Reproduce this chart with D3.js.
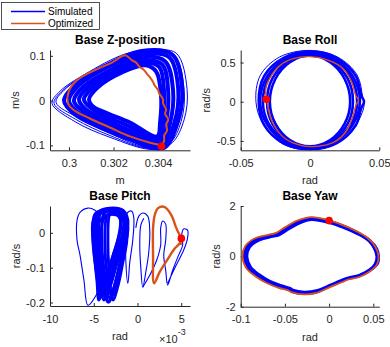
<!DOCTYPE html>
<html>
<head>
<meta charset="utf-8">
<script src="https://cdn.jsdelivr.net/npm/d3@7"></script>
<style>
  body { margin: 0; background: #fff; }
  svg { display: block; font-family: "Liberation Sans", Arial, Helvetica, sans-serif; }
</style>
</head>
<body>
<svg id="chart" width="390" height="347"></svg>
<script>
// Base Z-position: x in m, y in m/s
const zXTicks = [0.3, 0.302, 0.304];
const zYTicks = [-0.1, 0, 0.1];
const zBand = [
  [[0.30422, -0.107], [0.30274, -0.087], [0.30139, -0.060], [0.30027, -0.031], [0.29978, 0.000], [0.30027, 0.034], [0.30162, 0.077], [0.30319, 0.110], [0.30463, 0.103], [0.30508, 0.030], [0.30485, -0.053]],
  [[0.30418, -0.102], [0.30274, -0.080], [0.30144, -0.053], [0.30040, -0.026], [0.30000, 0.000], [0.30045, 0.034], [0.30175, 0.075], [0.30324, 0.103], [0.30449, 0.097], [0.30490, 0.027], [0.30472, -0.051]],
  [[0.30413, -0.098], [0.30274, -0.073], [0.30148, -0.047], [0.30058, -0.022], [0.30022, 0.000], [0.30067, 0.032], [0.30193, 0.070], [0.30328, 0.097], [0.30431, 0.088], [0.30467, 0.023], [0.30454, -0.049]],
  [[0.30409, -0.094], [0.30274, -0.067], [0.30153, -0.040], [0.30076, -0.020], [0.30045, 0.003], [0.30090, 0.032], [0.30207, 0.068], [0.30333, 0.090], [0.30418, 0.081], [0.30445, 0.021], [0.30436, -0.049]],
  [[0.30405, -0.087], [0.30274, -0.058], [0.30157, -0.033], [0.30094, -0.015], [0.30067, 0.003], [0.30108, 0.030], [0.30220, 0.065], [0.30337, 0.085], [0.30405, 0.075], [0.30427, 0.016], [0.30422, -0.047]],
  [[0.30396, -0.080], [0.30274, -0.049], [0.30162, -0.026], [0.30108, -0.013], [0.30090, 0.003], [0.30130, 0.030], [0.30238, 0.063], [0.30342, 0.079], [0.30391, 0.065], [0.30413, 0.012], [0.30409, -0.047]]
];
const zOuter = [
  [[0.30373, -0.109], [0.30184, -0.082], [0.30027, -0.047], [0.29924, -0.006], [0.29960, 0.021], [0.30072, 0.059], [0.30252, 0.104], [0.30364, 0.112], [0.30481, 0.106], [0.30530, 0.025], [0.30517, -0.042], [0.30463, -0.094]],
  [[0.30364, -0.107], [0.30184, -0.078], [0.30031, -0.042], [0.29933, -0.006], [0.29969, 0.021], [0.30085, 0.061], [0.30261, 0.101], [0.30369, 0.110], [0.30472, 0.103], [0.30517, 0.021], [0.30503, -0.047], [0.30454, -0.094]],
  [[0.30355, -0.105], [0.30184, -0.073], [0.30040, -0.038], [0.29942, -0.004], [0.29978, 0.023], [0.30094, 0.063], [0.30265, 0.099], [0.30373, 0.108], [0.30463, 0.101], [0.30503, 0.016], [0.30490, -0.051], [0.30445, -0.094]]
];
const zOpt = [
  [0.30418, -0.100], [0.30364, -0.094], [0.30274, -0.080], [0.30184, -0.060], [0.30094, -0.040], [0.30018, -0.020],
  [0.29996, -0.006], [0.30000, 0.021], [0.30040, 0.047], [0.30117, 0.068], [0.30193, 0.085], [0.30252, 0.101],
  [0.30283, 0.090], [0.30301, 0.085], [0.30319, 0.074], [0.30333, 0.070], [0.30351, 0.059], [0.30360, 0.054],
  [0.30378, 0.041], [0.30382, 0.036], [0.30400, 0.023], [0.30405, 0.016], [0.30422, 0.003], [0.30422, -0.006],
  [0.30436, -0.020], [0.30431, -0.029], [0.30445, -0.042], [0.30436, -0.053], [0.30440, -0.067], [0.30427, -0.078],
  [0.30427, -0.089], [0.30418, -0.100]
];
const zStart = [0.30415, -0.102];

// Base Roll: x in rad, y in rad/s
const rollXTicks = [-0.05, 0, 0.05];
const rollYTicks = [-0.5, 0, 0.5];
const rollBand = [
  [[0, 0.64], [0.019, 0.56], [0.033, 0.33], [0.037, 0.08], [0.039, 0.0], [0.037, -0.08], [0.033, -0.30], [0.019, -0.53], [0, -0.605], [-0.019, -0.53], [-0.033, -0.30], [-0.037, 0.01], [-0.033, 0.33], [-0.019, 0.56]],
  [[0, 0.625], [0.018, 0.545], [0.031, 0.32], [0.036, 0.01], [0.031, -0.29], [0.018, -0.51], [0, -0.59], [-0.018, -0.51], [-0.031, -0.29], [-0.036, 0.01], [-0.031, 0.32], [-0.018, 0.545]],
  [[0, 0.61], [0.017, 0.53], [0.0295, 0.31], [0.034, 0.0], [0.0295, -0.29], [0.017, -0.50], [0, -0.585], [-0.017, -0.50], [-0.0295, -0.29], [-0.034, 0.0], [-0.0295, 0.31], [-0.017, 0.53]],
  [[0.001, 0.60], [0.0155, 0.515], [0.027, 0.30], [0.031, 0.0], [0.027, -0.285], [0.0155, -0.495], [0, -0.575], [-0.0155, -0.495], [-0.027, -0.285], [-0.031, 0.0], [-0.027, 0.30], [-0.0155, 0.515]],
  [[0, 0.59], [0.0145, 0.505], [0.025, 0.29], [0.029, 0.0], [0.025, -0.28], [0.0145, -0.49], [0, -0.57], [-0.0145, -0.49], [-0.025, -0.28], [-0.029, 0.0], [-0.025, 0.29], [-0.0145, 0.505]]
];
const rollOuter = [
  [[0, 0.655], [0.020, 0.57], [0.034, 0.34], [0.038, 0.06], [0.039, -0.05], [0.033, -0.30], [0.019, -0.535], [0, -0.615], [-0.020, -0.535], [-0.034, -0.28], [-0.039, 0.0], [-0.036, 0.33], [-0.022, 0.57]]
];
const rollOpt = [
  [-0.031, 0.03], [-0.030, -0.10], [-0.026, -0.30], [-0.018, -0.47], [-0.006, -0.56], [0.005, -0.57], [0.017, -0.52],
  [0.026, -0.38], [0.031, -0.18], [0.033, -0.05], [0.035, 0.02], [0.033, 0.08], [0.030, 0.25], [0.024, 0.42],
  [0.013, 0.53], [0.0, 0.575], [-0.012, 0.55], [-0.022, 0.46], [-0.029, 0.30], [-0.032, 0.15], [-0.031, 0.03]
];
const rollStart = [-0.0315, 0.03];

// Base Pitch: x in rad (axis shown x10^-3), y in rad/s
const pitchXTicks = [-10e-3, -5e-3, 0, 5e-3];
const pitchYTicks = [-0.2, -0.1, 0];
const pitchBand = [
  [[-4.86e-3, 0.054], [-5.09e-3, -0.021], [-4.75e-3, -0.101], [-4.18e-3, -0.182], [-3.61e-3, -0.159], [-2.70e-3, -0.084], [-1.90e-3, -0.021], [-1.56e-3, 0.031], [-2.24e-3, 0.065], [-3.72e-3, 0.065]],
  [[-4.52e-3, 0.059], [-4.75e-3, -0.021], [-4.41e-3, -0.107], [-3.84e-3, -0.193], [-3.27e-3, -0.165], [-2.36e-3, -0.090], [-1.56e-3, -0.027], [-1.22e-3, 0.025], [-1.90e-3, 0.062], [-3.38e-3, 0.068]],
  [[-4.18e-3, 0.057], [-4.41e-3, -0.027], [-4.07e-3, -0.113], [-3.38e-3, -0.199], [-2.81e-3, -0.165], [-2.02e-3, -0.090], [-1.33e-3, -0.027], [-1.10e-3, 0.019], [-1.56e-3, 0.057], [-2.93e-3, 0.065]],
  [[-3.84e-3, 0.054], [-4.07e-3, -0.035], [-3.72e-3, -0.122], [-3.15e-3, -0.188], [-2.59e-3, -0.150], [-1.90e-3, -0.078], [-1.33e-3, -0.015], [-1.22e-3, 0.036], [-2.02e-3, 0.065], [-3.15e-3, 0.065]],
  [[-4.75e-3, 0.042], [-4.86e-3, -0.035], [-4.52e-3, -0.122], [-4.07e-3, -0.170], [-3.38e-3, -0.136], [-2.59e-3, -0.067], [-1.79e-3, -0.010], [-1.56e-3, 0.042], [-2.47e-3, 0.065], [-3.95e-3, 0.062]],
  [[-3.50e-3, 0.048], [-3.72e-3, -0.035], [-3.50e-3, -0.113], [-2.93e-3, -0.182], [-2.36e-3, -0.142], [-1.67e-3, -0.073], [-1.22e-3, -0.010], [-1.33e-3, 0.042], [-2.13e-3, 0.059], [-2.93e-3, 0.059]],
  [[-5.09e-3, 0.031], [-4.98e-3, -0.050], [-4.64e-3, -0.136], [-4.41e-3, -0.193], [-3.84e-3, -0.153], [-3.04e-3, -0.084], [-2.24e-3, -0.021], [-1.90e-3, 0.036], [-2.93e-3, 0.062], [-4.41e-3, 0.057]],
  [[-4.52e-3, 0.022], [-4.52e-3, -0.064], [-4.18e-3, -0.150], [-3.61e-3, -0.188], [-3.04e-3, -0.136], [-2.24e-3, -0.064], [-1.56e-3, -0.004], [-1.67e-3, 0.045], [-2.47e-3, 0.054], [-3.72e-3, 0.048]],
  [[-4.29e-3, 0.062], [-4.41e-3, -0.007], [-4.18e-3, -0.090], [-3.61e-3, -0.170], [-3.04e-3, -0.142], [-2.24e-3, -0.073], [-1.45e-3, -0.015], [-1.10e-3, 0.036], [-1.67e-3, 0.065], [-3.15e-3, 0.071]],
  [[-3.15e-3, 0.054], [-3.38e-3, -0.027], [-3.27e-3, -0.101], [-2.81e-3, -0.193], [-2.24e-3, -0.153], [-1.67e-3, -0.084], [-1.22e-3, -0.021], [-1.33e-3, 0.031], [-1.90e-3, 0.054], [-2.70e-3, 0.059]],
  [[-4.98e-3, 0.008], [-4.75e-3, -0.073], [-4.29e-3, -0.153], [-4.07e-3, -0.182], [-3.50e-3, -0.142], [-2.81e-3, -0.067], [-2.13e-3, -0.007], [-2.02e-3, 0.042], [-3.15e-3, 0.062], [-4.52e-3, 0.051]],
  [[-3.95e-3, 0.036], [-4.18e-3, -0.050], [-3.95e-3, -0.130], [-3.27e-3, -0.199], [-2.70e-3, -0.165], [-2.02e-3, -0.096], [-1.45e-3, -0.035], [-1.33e-3, 0.019], [-2.02e-3, 0.048], [-3.38e-3, 0.051]]
];
const pitchTransients = [
  [[-4.52e-3, -0.170], [-5.66e-3, -0.208], [-6.12e-3, -0.136], [-6.57e-3, -0.064], [-6.91e-3, -0.021], [-6.91e-3, 0.036], [-6.57e-3, 0.059], [-5.66e-3, 0.071], [-4.86e-3, 0.065], [-4.29e-3, 0.051]],
  [[-1.45e-3, 0.036], [-1.10e-3, 0.059], [-0.65e-3, 0.062], [-0.42e-3, 0.042], [-0.54e-3, -0.021], [-0.88e-3, -0.084], [-1.10e-3, -0.145], [-1.33e-3, -0.084], [-1.33e-3, -0.021]],
  [[-0.19e-3, 0.014], [0.15e-3, 0.048], [0.60e-3, 0.057], [1.17e-3, 0.048], [1.40e-3, 0.008], [1.29e-3, -0.055], [0.95e-3, -0.113], [0.60e-3, -0.156], [0.38e-3, -0.101], [0.26e-3, -0.035], [0.38e-3, 0.022], [0.72e-3, 0.042]],
  [[0.60e-3, -0.156], [1.40e-3, -0.122], [2.20e-3, -0.078], [2.65e-3, -0.035], [2.65e-3, 0.014], [2.88e-3, 0.034], [3.22e-3, 0.025], [3.22e-3, -0.021], [3.00e-3, -0.064], [3.22e-3, -0.107], [3.45e-3, -0.150], [4.02e-3, -0.107], [4.70e-3, -0.064], [5.16e-3, -0.035], [5.05e-3, -0.007], [5.27e-3, 0.011], [5.72e-3, 0.008], [5.72e-3, -0.015], [5.27e-3, -0.050], [4.36e-3, -0.096], [3.45e-3, -0.145]]
];
const pitchOpt = [
  [5.01e-3, -0.016], [4.44e-3, 0.0135], [3.87e-3, 0.051], [3.11e-3, 0.074], [2.35e-3, 0.071], [1.97e-3, 0.051],
  [1.78e-3, 0.0135], [1.78e-3, -0.064], [1.89e-3, -0.145], [2.54e-3, -0.112], [3.49e-3, -0.074], [4.25e-3, -0.045],
  [4.82e-3, -0.030], [4.93e-3, -0.015], [4.93e-3, -0.035]
];
const pitchStart = [5.01e-3, -0.016];

// Base Yaw: x in rad, y in rad/s
const yawXTicks = [-0.1, -0.05, 0, 0.05];
const yawYTicks = [-2, 0, 2];
const yawBand = [
  [[-0.02, 1.52], [0.0, 1.40], [0.015, 1.22], [0.031, 0.97], [0.043, 0.70], [0.050, 0.40], [0.054, 0.0], [0.052, -0.32], [0.045, -0.58], [0.033, -0.80], [0.020, -0.90], [0.014, -0.99], [0.0, -1.20], [-0.014, -1.42], [-0.028, -1.48], [-0.042, -1.40], [-0.045, -1.33], [-0.056, -1.22], [-0.069, -1.04], [-0.081, -0.78], [-0.092, -0.44], [-0.096, 0.0], [-0.093, 0.39], [-0.083, 0.68], [-0.066, 0.84], [-0.058, 0.91], [-0.049, 1.12], [-0.035, 1.39]],
  [[-0.02, 1.49], [0.0, 1.37], [0.016, 1.18], [0.032, 0.93], [0.046, 0.64], [0.054, 0.30], [0.056, 0.0], [0.055, -0.28], [0.047, -0.55], [0.035, -0.77], [0.022, -0.87], [0.016, -0.95], [0.002, -1.16], [-0.013, -1.38], [-0.028, -1.45], [-0.041, -1.37], [-0.044, -1.30], [-0.055, -1.19], [-0.068, -1.01], [-0.080, -0.75], [-0.091, -0.42], [-0.095, 0.0], [-0.092, 0.37], [-0.082, 0.65], [-0.065, 0.81], [-0.057, 0.88], [-0.048, 1.09], [-0.034, 1.36]],
  [[-0.02, 1.46], [0.0, 1.34], [0.016, 1.15], [0.032, 0.90], [0.045, 0.62], [0.052, 0.30], [0.055, 0.0], [0.053, -0.27], [0.046, -0.53], [0.034, -0.75], [0.022, -0.85], [0.016, -0.92], [0.002, -1.13], [-0.013, -1.35], [-0.028, -1.42], [-0.041, -1.34], [-0.044, -1.27], [-0.054, -1.16], [-0.067, -0.99], [-0.079, -0.73], [-0.089, -0.41], [-0.093, 0.0], [-0.090, 0.36], [-0.080, 0.63], [-0.064, 0.79], [-0.056, 0.86], [-0.047, 1.06], [-0.033, 1.33]]
];
const yawOpt = [
  [-0.02, 1.56], [0.0, 1.43], [0.015, 1.25], [0.031, 1.0], [0.044, 0.72], [0.052, 0.40], [0.056, 0.0], [0.054, -0.33],
  [0.046, -0.60], [0.034, -0.82], [0.021, -0.93], [0.015, -1.02], [0.001, -1.22], [-0.014, -1.45], [-0.028, -1.51],
  [-0.042, -1.43], [-0.046, -1.36], [-0.057, -1.25], [-0.070, -1.07], [-0.083, -0.80], [-0.094, -0.45], [-0.098, 0.0],
  [-0.095, 0.40], [-0.085, 0.70], [-0.068, 0.86], [-0.060, 0.93], [-0.050, 1.15], [-0.036, 1.42]
];
const yawStart = [0.0, 1.42];

const legendNames = ['Simulated', 'Optimized'];

const axisColor = '#262626';
const simColor = '#0000ff';
const optColor = '#d95319';
const svg = d3.select('#chart');

const panels = [
  { id: 'z', title: 'Base Z-position', xLabel: 'm', yLabel: 'm/s', left: 50, right: 190, top: 50, bottom: 150.3,
    xDomain: [0.29915, 0.30543], yDomain: [-0.111, 0.113], xTicks: zXTicks, yTicks: zYTicks, xFormat: (d) => String(d),
    band: zBand, bandWidth: 4, thin: zOuter, open: [], opt: zOpt, optClosed: false, optWidth: 2, start: zStart, yLabelX: 19 },
  { id: 'roll', title: 'Base Roll', xLabel: 'rad', yLabel: 'rad/s', left: 240.7, right: 379.3, top: 50, bottom: 150.3,
    xDomain: [-0.05, 0.05], yDomain: [-0.62, 0.66], xTicks: rollXTicks, yTicks: rollYTicks, xFormat: (d) => String(d),
    band: rollBand, bandWidth: 2.6, thin: rollOuter, open: [], opt: rollOpt, optClosed: false, optWidth: 1.4, start: rollStart, yLabelX: 210 },
  { id: 'pitch', title: 'Base Pitch', xLabel: 'rad', yLabel: 'rad/s', left: 50, right: 190, top: 206, bottom: 306,
    xDomain: [-10e-3, 6e-3], yDomain: [-0.21, 0.077], xTicks: pitchXTicks, yTicks: pitchYTicks, xFormat: (d) => String(Math.round(d * 1000)),
    band: pitchBand, bandWidth: 2.9, thin: [], open: pitchTransients, opt: pitchOpt, optClosed: false, optWidth: 2.4, start: pitchStart, yLabelX: 20 },
  { id: 'yaw', title: 'Base Yaw', xLabel: 'rad', yLabel: 'rad/s', left: 240.7, right: 379.3, top: 206, bottom: 306.7,
    xDomain: [-0.1, 0.0568], yDomain: [-2, 2], xTicks: yawXTicks, yTicks: yawYTicks, xFormat: (d) => String(d),
    band: yawBand, bandWidth: 2.8, thin: [], open: [], opt: yawOpt, optClosed: true, optWidth: 1.8, start: yawStart, yLabelX: 220 }
];

function drawPanel(p) {
  const x = d3.scaleLinear().domain(p.xDomain).range([p.left, p.right]);
  const y = d3.scaleLinear().domain(p.yDomain).range([p.bottom, p.top]);

  const xAxisG = svg.append('g').attr('transform', `translate(0,${p.bottom})`)
    .call(d3.axisBottom(x).tickValues(p.xTicks).tickFormat(p.xFormat).tickSizeInner(-3).tickSizeOuter(0).tickPadding(9));
  const yAxisG = svg.append('g').attr('transform', `translate(${p.left},0)`)
    .call(d3.axisLeft(y).tickValues(p.yTicks).tickFormat((d) => String(d)).tickSizeInner(-3).tickSizeOuter(0).tickPadding(5));
  [xAxisG, yAxisG].forEach((a) => {
    a.attr('font-family', null).attr('font-size', null);
    a.select('.domain').attr('stroke', axisColor).attr('stroke-width', 1);
    a.selectAll('.tick line').attr('stroke', axisColor);
    a.selectAll('.tick text').attr('fill', axisColor).style('font-size', '11px');
  });

  svg.append('clipPath').attr('id', 'clip-' + p.id)
    .append('rect')
    .attr('x', p.left).attr('y', p.top - 2)
    .attr('width', p.right - p.left + 2).attr('height', p.bottom - p.top + 2);

  const g = svg.append('g').attr('clip-path', `url(#clip-${p.id})`);
  const closed = d3.line().x((d) => x(d[0])).y((d) => y(d[1])).curve(d3.curveCatmullRomClosed);
  const open = d3.line().x((d) => x(d[0])).y((d) => y(d[1])).curve(d3.curveCatmullRom);

  g.selectAll('path.thin').data(p.thin).enter().append('path')
    .attr('d', closed).attr('fill', 'none').attr('stroke', simColor).attr('stroke-width', 1);
  g.selectAll('path.open').data(p.open).enter().append('path')
    .attr('d', open).attr('fill', 'none').attr('stroke', simColor).attr('stroke-width', 1.1);
  g.selectAll('path.band').data(p.band).enter().append('path')
    .attr('d', closed).attr('fill', 'none').attr('stroke', simColor).attr('stroke-width', p.bandWidth);

  g.append('path')
    .attr('d', (p.optClosed ? closed : open)(p.opt))
    .attr('fill', 'none').attr('stroke', optColor).attr('stroke-width', p.optWidth)
    .attr('stroke-linejoin', 'round');

  svg.append('circle')
    .attr('cx', x(p.start[0])).attr('cy', y(p.start[1]))
    .attr('r', 3.8).attr('fill', '#ff0000');

  svg.append('text')
    .attr('x', (p.left + p.right) / 2).attr('y', p.top - 6)
    .attr('text-anchor', 'middle').attr('font-weight', 'bold').attr('font-size', 12)
    .attr('fill', '#000').text(p.title);
  svg.append('text')
    .attr('x', (p.left + p.right) / 2).attr('y', p.bottom + 34)
    .attr('text-anchor', 'middle').attr('font-size', 11).attr('fill', axisColor).text(p.xLabel);
  const cy = (p.top + p.bottom) / 2;
  svg.append('text')
    .attr('transform', `translate(${p.yLabelX},${cy}) rotate(-90)`)
    .attr('text-anchor', 'middle').attr('font-size', 11).attr('fill', axisColor).text(p.yLabel);
}

panels.forEach(drawPanel);

// exponent note under the pitch axis
const expo = svg.append('text').attr('x', 159).attr('y', 343).attr('font-size', 11).attr('fill', axisColor);
expo.append('tspan').text('\u00d710');
expo.append('tspan').attr('dy', -8).attr('font-size', 9).text('-3');

// legend
const legendColors = [simColor, optColor];
const legend = svg.append('g');
legend.append('rect')
  .attr('x', 1.5).attr('y', 2.5).attr('width', 98).attr('height', 27)
  .attr('fill', '#fff').attr('stroke', axisColor).attr('stroke-width', 0.8);
legendNames.forEach((name, i) => {
  legend.append('path')
    .attr('d', `M11,${11.5 + i * 12}H45`)
    .attr('fill', 'none')
    .attr('stroke', legendColors[i])
    .attr('stroke-width', 1.3);
  legend.append('text')
    .attr('x', 48).attr('y', 15 + i * 12)
    .attr('font-size', 10).attr('fill', '#000')
    .text(name);
});
</script>
</body>
</html>
